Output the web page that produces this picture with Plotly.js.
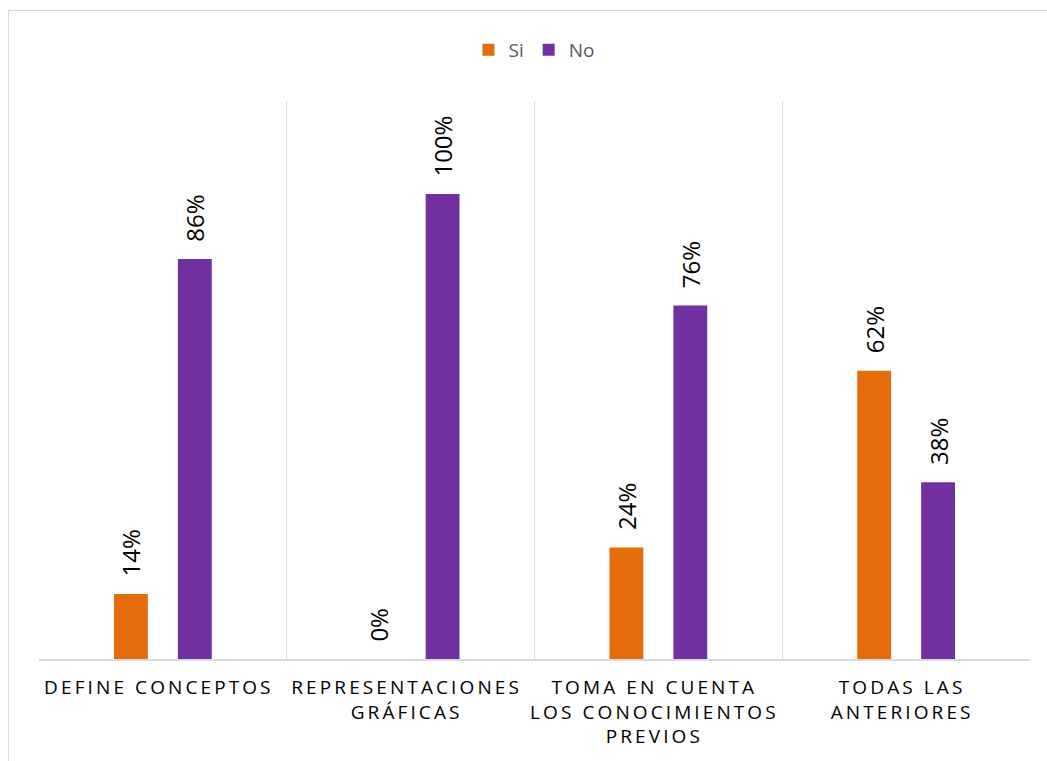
<!DOCTYPE html>
<html>
<head>
<meta charset="utf-8">
<script src="https://cdn.plot.ly/plotly-3.0.1.min.js"></script>
<style>
  body { margin: 0; padding: 0; background: #ffffff; overflow: hidden; }
  #frame { position: absolute; left: 8px; top: 10px; width: 1100px; height: 800px; border: 1px solid #d9d9d9; pointer-events: none; }
  #chart { position: absolute; left: 0; top: 0; width: 1047px; height: 761px; }
  #chart .xtick text { letter-spacing: 3.1px; translate: -4px 0; }
</style>
</head>
<body>
<div id="chart"></div>
<div id="frame"></div>
<script>
const categories = [
  "DEFINE CONCEPTOS",
  "REPRESENTACIONES<br>GRÁFICAS",
  "TOMA EN CUENTA<br>LOS CONOCIMIENTOS<br>PREVIOS",
  "TODAS LAS<br>ANTERIORES"
];
const seriesNames = ["Si", "No"];
const siValues = [0.14, 0.00, 0.24, 0.62];
const noValues = [0.86, 1.00, 0.76, 0.38];
const siLabels = ["14%", "0%", "24%", "62%"];
const noLabels = ["86%", "100%", "76%", "38%"];

const labelFont = { family: "Open Sans, Liberation Sans, sans-serif", size: 24, color: "#000000" };
const pad = "\u2002\u200A";

const traces = [
  {
    type: "bar", name: seriesNames[0], x: categories, y: siValues,
    marker: { color: "#E46C0A" },
    text: siLabels.map(s => pad + s), textposition: "outside", textangle: -90,
    constraintext: "none", textfont: labelFont, cliponaxis: false, hoverinfo: "skip"
  },
  {
    type: "bar", name: seriesNames[1], x: categories, y: noValues,
    marker: { color: "#7030A0" },
    text: noLabels.map(s => pad + s), textposition: "outside", textangle: -90,
    constraintext: "none", textfont: labelFont, cliponaxis: false, hoverinfo: "skip"
  }
];

const layout = {
  width: 1047, height: 761,
  paper_bgcolor: "rgba(0,0,0,0)", plot_bgcolor: "rgba(0,0,0,0)",
  margin: { l: 39, r: 17, t: 101, b: 102 },
  barmode: "group", bargap: 0.484, bargroupgap: 0.47,
  showlegend: true,
  legend: {
    orientation: "h", x: 0.51, xanchor: "center", xref: "container",
    y: 1 - 50 / 761, yanchor: "middle", yref: "container",
    font: { family: "Open Sans, sans-serif", size: 19, color: "#595959" },
    itemwidth: 30, itemsizing: "constant", traceorder: "normal"
  },
  xaxis: {
    type: "category", range: [-0.5, 3.5],
    tickson: "boundaries", showgrid: true, gridcolor: "#d9d9d9", gridwidth: 1,
    ticks: "", showline: true, linecolor: "#d9d9d9", linewidth: 2,
    tickfont: { family: "Open Sans, sans-serif", size: 19, color: "#000000" },
    ticklabelstandoff: 10, fixedrange: true
  },
  yaxis: {
    range: [0, 1.2], visible: false, showgrid: false, zeroline: false, fixedrange: true
  }
};

Plotly.newPlot("chart", traces, layout, { displayModeBar: false, staticPlot: true });
</script>
</body>
</html>
